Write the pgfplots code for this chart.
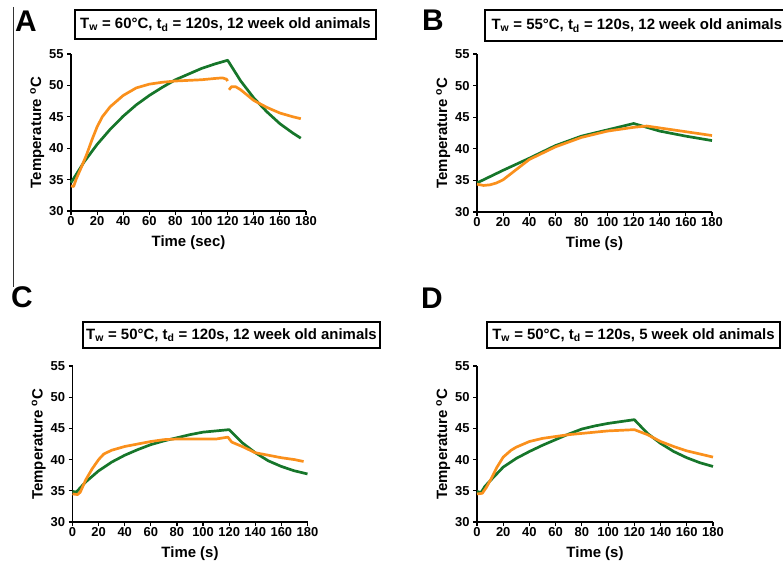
\documentclass[border=0pt]{standalone}
\usepackage{fontspec}
\setmainfont{Liberation Sans}
\usepackage{pgfplots}
\pgfplotsset{compat=1.18}
\definecolor{cgreen}{RGB}{22,118,42}
\definecolor{corange}{RGB}{250,144,28}

\pgfplotsset{
  panel/.style={
    scale only axis, width=235bp, height=157bp,
    anchor=south west,
    xmin=0, xmax=180, ymin=30, ymax=55,
    axis x line*=bottom, axis y line*=left,
    axis line style={line width=1.3bp, -},
    xtick={0,20,...,180}, ytick={30,35,...,55},
    tick align=outside, major tick length=4bp,
    tick style={line width=1.2bp, black},
    tick label style={font=\fontsize{13}{13}\selectfont\bfseries},
    xticklabel style={inner sep=1.5bp},
    /pgf/number format/assume math mode=true,
    label style={font=\fontsize{15}{15}\selectfont\bfseries},
    xlabel style={yshift=-5bp},
    ylabel style={yshift=-2bp},
    ylabel={Temperature \textsuperscript{o}C},
    xlabel={Time (s)},
    clip=false,
  },
  grn/.style={cgreen, line width=2.7bp, line join=round},
  org/.style={corange, line width=2.7bp, line join=round},
}
\tikzset{ttl/.style={font=\fontsize{15}{15}\selectfont\bfseries},
  lbl/.style={font=\fontsize{30}{30}\selectfont\bfseries}}

\begin{document}
\begin{tikzpicture}
\useasboundingbox (0,0) rectangle (783bp,568bp);
\draw[line width=0.8bp, black!80] (13bp,561bp) -- (13bp,281bp);

% panel A
\node[lbl] at (26bp,547bp) {A};
\draw[line width=1.3bp] (75bp,529bp) rectangle (376bp,558bp);
\node[ttl] at (225.5bp,543.5bp) {T\textsubscript{w} = 60°C, t\textsubscript{d} = 120s, 12 week old animals};
\begin{axis}[panel, at={(71bp,357bp)}, xlabel={Time (sec)}]
\addplot[grn] coordinates {
 (0,34.5) (10,37.8) (20,40.6) (30,43.0) (40,45.1) (50,46.9) (60,48.4)
 (70,49.7) (80,50.9) (90,51.8) (100,52.7) (110,53.4) (120,54.0)
 (130,50.7) (140,48.0) (150,45.8) (160,43.9) (170,42.4) (176,41.6)
};
\addplot[org] coordinates {
 (0,34.0) (2,33.9) (4,35.1) (8,37.0) (12,39.0) (16,41.3) (20,43.4)
 (24,45.0) (30,46.6) (40,48.4) (50,49.6) (60,50.2) (70,50.5) (80,50.7)
 (90,50.8) (100,50.9) (110,51.1) (116,51.2) (119,51.0) (120,50.7)
};
\addplot[org] coordinates {
 (121,49.3) (123,49.8) (126,49.8) (130,49.3) (140,47.6) (150,46.5)
 (160,45.6) (170,45.0) (176,44.7)
};
\end{axis}

% panel B
\node[lbl] at (433bp,548bp) {B};
\draw[line width=1.3bp] (485bp,527bp) rectangle (800bp,558bp);
\node[ttl, anchor=west] at (488bp,542.5bp) {T\textsubscript{w} = 55°C, t\textsubscript{d} = 120s, 12 week old animals};
\begin{axis}[panel, at={(477bp,356bp)}, height=158bp]
\addplot[grn] coordinates {
 (0,34.6) (10,35.6) (20,36.6) (40,38.5) (60,40.5) (80,42.0) (100,43.0)
 (110,43.5) (120,44.0) (130,43.4) (140,42.8) (160,42.0) (180,41.3)
};
\addplot[org] coordinates {
 (0,34.4) (5,34.2) (10,34.3) (15,34.6) (20,35.1) (25,35.9) (30,36.7)
 (40,38.3) (60,40.3) (80,41.8) (100,42.8) (120,43.4) (130,43.6)
 (140,43.3) (160,42.7) (180,42.1)
};
\end{axis}

% panel C
\node[lbl] at (22bp,271bp) {C};
\draw[line width=1.3bp] (83bp,220bp) rectangle (380bp,246bp);
\node[ttl] at (231.5bp,233bp) {T\textsubscript{w} = 50°C, t\textsubscript{d} = 120s, 12 week old animals};
\begin{axis}[panel, at={(72.5bp,46bp)}, height=156bp]
\addplot[grn] coordinates {
 (0,34.9) (3,34.8) (6,35.5) (10,36.4) (20,38.2) (30,39.6) (40,40.7)
 (50,41.6) (60,42.4) (70,43.0) (80,43.5) (90,44.0) (100,44.4) (110,44.6)
 (120,44.8) (130,42.7) (140,41.1) (150,39.8) (160,38.9) (170,38.2) (180,37.7)
};
\addplot[org] coordinates {
 (0,34.5) (4,34.4) (6,34.8) (10,36.7) (15,38.5) (20,40.0) (24,40.9)
 (30,41.5) (40,42.1) (50,42.5) (60,42.9) (70,43.2) (80,43.3) (100,43.3)
 (110,43.3) (119,43.6) (122,42.8) (130,42.1) (140,41.1) (150,40.7)
 (160,40.3) (170,40.0) (177,39.7)
};
\end{axis}

% panel D
\node[lbl] at (432bp,270bp) {D};
\draw[line width=1.3bp] (487bp,220bp) rectangle (780bp,246bp);
\node[ttl] at (633.5bp,233bp) {T\textsubscript{w} = 50°C, t\textsubscript{d} = 120s, 5 week old animals};
\begin{axis}[panel, at={(477bp,46bp)}, height=156bp, width=236bp]
\addplot[grn] coordinates {
 (0,34.9) (3,34.7) (6,35.7) (10,36.6) (20,38.8) (30,40.2) (40,41.3)
 (50,42.3) (60,43.2) (70,44.1) (80,44.9) (90,45.4) (100,45.8) (110,46.1)
 (120,46.4) (130,44.2) (140,42.6) (150,41.3) (160,40.3) (170,39.5) (180,38.9)
};
\addplot[org] coordinates {
 (0,34.5) (4,34.6) (7,35.5) (11,37.0) (15,38.7) (20,40.4) (26,41.5)
 (30,42.0) (40,42.9) (50,43.4) (60,43.7) (70,44.0) (80,44.2) (90,44.4)
 (100,44.6) (110,44.7) (120,44.8) (130,44.0) (140,42.9) (150,42.1)
 (160,41.4) (170,40.9) (180,40.4)
};
\end{axis}
\end{tikzpicture}
\end{document}
